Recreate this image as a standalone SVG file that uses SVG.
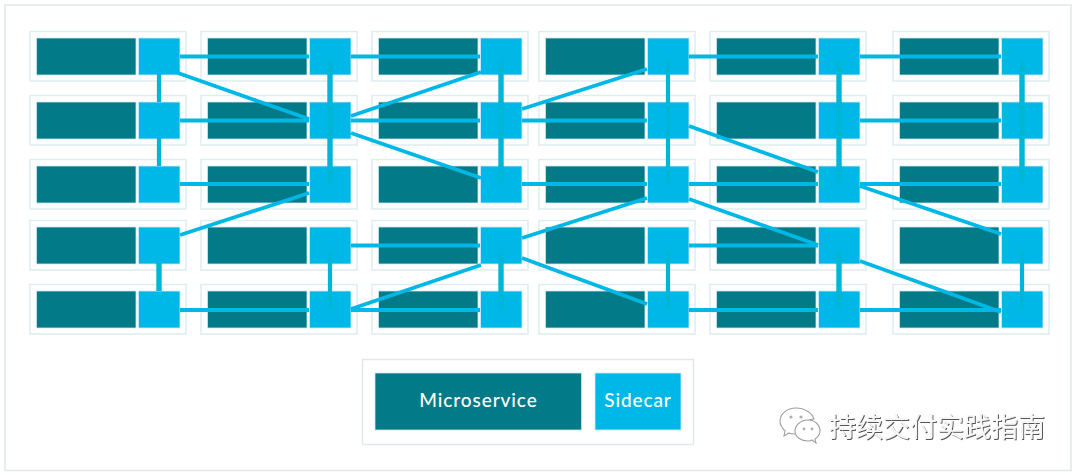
<svg xmlns="http://www.w3.org/2000/svg" width="1080" height="475" viewBox="0 0 1080 475">
<style>
.frame{fill:#fff;stroke:#e3e7e9;stroke-width:1.5}
.box{fill:#fff;stroke:#deedf0;stroke-width:1.5}
.svc{fill:#037a87;stroke:#cfe6ea;stroke-width:.8}
.car{fill:#00b8e8;stroke:#cdeef7;stroke-width:.8}
.h{fill:none;stroke:#00b8e6;stroke-width:4}
.d{fill:none;stroke:#00b8e6;stroke-width:3.8}
.v{fill:none;stroke:#00b6d6;stroke-width:4.200}
.vt{fill:none;stroke:#00b6d6;stroke-width:5.400}
.lbl{font-family:"Lato","Liberation Sans",sans-serif;font-size:19px;font-weight:500;fill:#fff;text-anchor:middle;letter-spacing:.9px}
.mark{font-family:"Noto Sans CJK SC",sans-serif;font-size:27px;fill:#f6f6f6;filter:url(#emboss)}
.chat{fill:#fff;stroke:#a0a0a0;stroke-width:1.1}
.eye{fill:#b0b0b0}
</style>
<defs>
<filter id="emboss" x="-5%" y="-20%" width="110%" height="140%">
<feDropShadow dx="1" dy="1" stdDeviation=".6" flood-color="#555"/>
</filter>
<g id="pair">
<rect class="box" x="0" y="0" width="156" height="49.5"/>
<rect class="svc" x="6.5" y="6.5" width="99.5" height="37"/>
<rect class="car" x="108.5" y="6.5" width="41.5" height="37"/>
</g>
</defs>
<rect class="frame" x="5" y="5" width="1066" height="465.5"/>

<!-- Service and sidecar pairs, row by row -->
<g id="r1c1"><use href="#pair" x="30" y="31.5"/></g>
<g id="r1c2"><use href="#pair" x="201" y="31.5"/></g>
<g id="r1c3"><use href="#pair" x="372" y="31.5"/></g>
<g id="r1c4"><use href="#pair" x="539" y="31.5"/></g>
<g id="r1c5"><use href="#pair" x="710" y="31.5"/></g>
<g id="r1c6"><use href="#pair" x="893" y="31.5"/></g>
<g id="r2c1"><use href="#pair" x="30" y="95.5"/></g>
<g id="r2c2"><use href="#pair" x="201" y="95.5"/></g>
<g id="r2c3"><use href="#pair" x="372" y="95.5"/></g>
<g id="r2c4"><use href="#pair" x="539" y="95.5"/></g>
<g id="r2c5"><use href="#pair" x="710" y="95.5"/></g>
<g id="r2c6"><use href="#pair" x="893" y="95.5"/></g>
<g id="r3c1"><use href="#pair" x="30" y="159.5"/></g>
<g id="r3c2"><use href="#pair" x="201" y="159.5"/></g>
<g id="r3c3"><use href="#pair" x="372" y="159.5"/></g>
<g id="r3c4"><use href="#pair" x="539" y="159.5"/></g>
<g id="r3c5"><use href="#pair" x="710" y="159.5"/></g>
<g id="r3c6"><use href="#pair" x="893" y="159.5"/></g>
<g id="r4c1"><use href="#pair" x="30" y="220.5"/></g>
<g id="r4c2"><use href="#pair" x="201" y="220.5"/></g>
<g id="r4c3"><use href="#pair" x="372" y="220.5"/></g>
<g id="r4c4"><use href="#pair" x="539" y="220.5"/></g>
<g id="r4c5"><use href="#pair" x="710" y="220.5"/></g>
<g id="r4c6"><use href="#pair" x="893" y="220.5"/></g>
<g id="r5c1"><use href="#pair" x="30" y="284.5"/></g>
<g id="r5c2"><use href="#pair" x="201" y="284.5"/></g>
<g id="r5c3"><use href="#pair" x="372" y="284.5"/></g>
<g id="r5c4"><use href="#pair" x="539" y="284.5"/></g>
<g id="r5c5"><use href="#pair" x="710" y="284.5"/></g>
<g id="r5c6"><use href="#pair" x="893" y="284.5"/></g>

<!-- Mesh links between sidecars -->
<g id="connectors">
<path class="h" d="M180 56.5H309M351 56.5H480M689 56.5H818M860 56.5H1001"/>
<path class="h" d="M180 120.5H309M351 120.5H480M522 120.5H647M860 120.5H1001"/>
<path class="h" d="M180 184H309M522 184H647M689 184H818M860 184H1001"/>
<path class="h" d="M351 245.5H480M689 245.5H818"/>
<path class="h" d="M180 310H309M351 310H480M689 310H818M860 310H1001"/>

<path class="d" d="M178 73L309 119"/>
<path class="d" d="M351 116L481 72"/>
<path class="d" d="M351 133L481 178"/>
<path class="d" d="M180 235L309 193"/>
<path class="d" d="M522 109L647 69"/>
<path class="d" d="M689 126L818 172"/>
<path class="d" d="M689 199L818 245"/>
<path class="d" d="M860 186L1001 234"/>
<path class="d" d="M522 238L647 198"/>
<path class="d" d="M351 309L481 265"/>
<path class="d" d="M522 258L647 304"/>
<path class="d" d="M860 261L1001 312"/>

<path class="v" d="M159 74V102M159 138V166"/>
<path class="vt" d="M330 61V183"/>
<path class="vt" d="M501 61V183"/>
<path class="v" d="M668 61V183"/>
<path class="vt" d="M839 61V183"/>
<path class="vt" d="M1022 61V183"/>
<path class="vt" d="M159 263V291"/>
<path class="v" d="M330 251V309"/>
<path class="vt" d="M501 251V309"/>
<path class="v" d="M668 251V309"/>
<path class="vt" d="M839 251V309"/>
<path class="v" d="M1022 251V309"/>
</g>

<!-- Legend -->
<g id="legend"><rect class="frame" x="362.500" y="359.500" width="331" height="85"/></g>
<g id="legend-microservice">
<rect class="svc" x="375" y="373" width="206.500" height="57"/>
<text class="lbl" x="478.500" y="406.500">Microservice</text>
</g>
<g id="legend-sidecar">
<rect class="car" x="595" y="373" width="86" height="57"/>
<text class="lbl" x="638" y="406.500">Sidecar</text>
</g>

<!-- Account mark, lower right -->
<g id="account">
<path class="chat" d="M796 408c-9 0-16 6-16 13 0 4 2 7 5 10l-1 5 5-3c2 1 5 1 8 1l5-2c-1-8 4-12 12-13-2-6-9-11-18-11z"/>
<path class="chat" d="M808 420c-7 0-13 5-13 11s6 10 13 10c1 0 3 0 4-1l4 3-1-4c3-2 5-5 5-8 0-6-5-11-12-11z"/>
<circle class="eye" cx="791" cy="417" r="1.600"/><circle class="eye" cx="801" cy="417" r="1.600"/>
<circle class="eye" cx="804" cy="429" r="1.400"/><circle class="eye" cx="812" cy="429" r="1.400"/>
<text class="mark" x="829" y="437">持续交付实践指南</text>
</g>
</svg>
